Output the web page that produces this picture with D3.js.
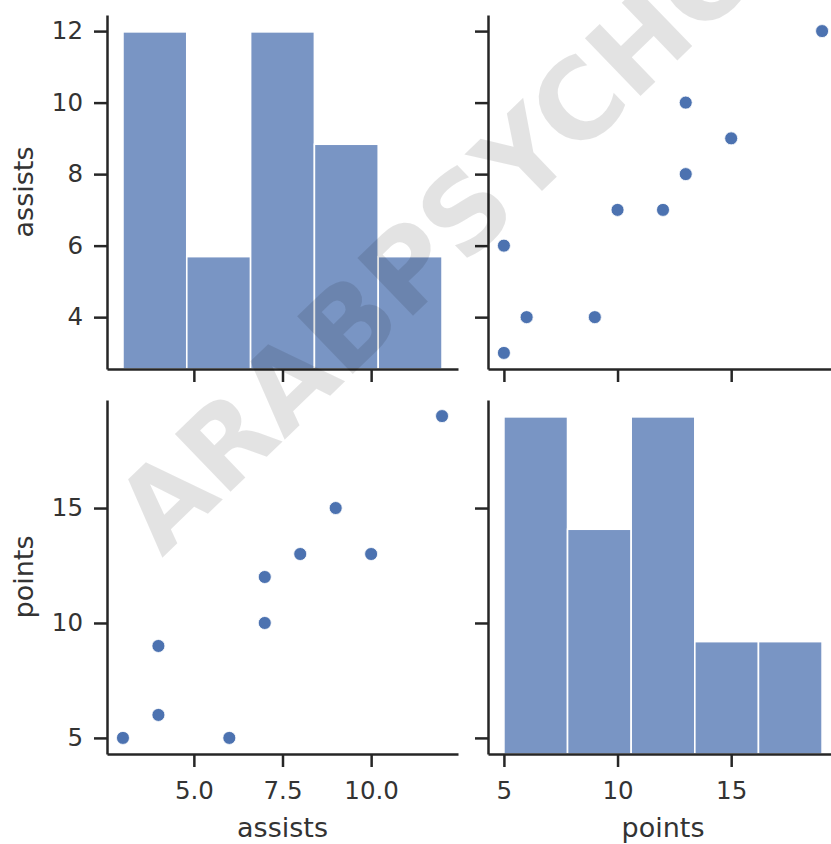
<!DOCTYPE html>
<html>
<head>
<meta charset="utf-8">
<script src="https://cdn.jsdelivr.net/npm/d3@7"></script>
<style>
    body { margin: 0; background: #fff; }
    text { font-family: "DejaVu Sans", sans-serif; }
</style>
</head>
<body>
<div id="pairplot"></div>
<script>
// raw data, one entry per player
var assists = [3, 6, 4, 4, 7, 7, 8, 10, 9, 12];
var points = [5, 5, 6, 9, 10, 12, 13, 13, 15, 19];

var variables = ["assists", "points"];
var tickValues = {
    assists: [4, 6, 8, 10, 12],
    points: [5, 10, 15]
};
var xTickValues = {
    assists: [5.0, 7.5, 10.0],
    points: [5, 10, 15]
};
var xTickFormat = {
    assists: d3.format(".1f"),
    points: d3.format("d")
};

function drawPairplot() {
    var width = 831, height = 844;
    var cols = [[107, 458], [488, 838]];
    var rows = [[15, 369], [400, 754]];
    var nBins = 5;

    var barColor = "#4C72B0";
    var axisColor = "#262626";
    var textColor = "#333333";

    var columns = { assists: assists, points: points };

    d3.select("#pairplot").selectAll("*").remove();
    var svg = d3.select("#pairplot")
        .append("svg")
        .attr("width", width)
        .attr("height", height);

    // one scale per variable for each direction
    function xScale(name, c) {
        var ext = d3.extent(columns[name]);
        var pad = (ext[1] - ext[0]) * 0.05;
        return d3.scaleLinear().domain([ext[0] - pad, ext[1] + pad]).range(cols[c]);
    }
    function yScale(name, r) {
        var ext = d3.extent(columns[name]);
        var pad = (ext[1] - ext[0]) * 0.05;
        return d3.scaleLinear().domain([ext[0] - pad, ext[1] + pad]).range([rows[r][1], rows[r][0]]);
    }

    variables.forEach(function (rowVar, r) {
        variables.forEach(function (colVar, c) {
            var x = xScale(colVar, c);
            var y = yScale(rowVar, r);
            var g = svg.append("g");

            if (r === c) {
                // histogram on the diagonal
                var ext = d3.extent(columns[colVar]);
                var step = (ext[1] - ext[0]) / nBins;
                var thresholds = d3.range(1, nBins).map(function (i) { return ext[0] + i * step; });
                var bins = d3.bin().domain(ext).thresholds(thresholds)(columns[colVar]);
                var yCount = d3.scaleLinear()
                    .domain([0, d3.max(bins, function (d) { return d.length; }) * 1.05])
                    .range([rows[r][1], rows[r][0]]);
                g.selectAll("rect")
                    .data(bins)
                    .enter()
                    .append("rect")
                    .attr("x", function (d) { return x(d.x0); })
                    .attr("width", function (d) { return x(d.x1) - x(d.x0); })
                    .attr("y", function (d) { return yCount(d.length); })
                    .attr("height", function (d) { return yCount(0) - yCount(d.length); })
                    .attr("fill", barColor)
                    .attr("fill-opacity", 0.75)
                    .attr("stroke", "#fff")
                    .attr("stroke-width", 1.6);
            } else {
                // scatter off the diagonal
                g.selectAll("circle")
                    .data(d3.range(columns[colVar].length))
                    .enter()
                    .append("circle")
                    .attr("cx", function (i) { return x(columns[colVar][i]); })
                    .attr("cy", function (i) { return y(columns[rowVar][i]); })
                    .attr("r", 6.5)
                    .attr("fill", barColor)
                    .attr("stroke", "#fff")
                    .attr("stroke-width", 0.8);
            }

            // left axis, labels only in the first column
            var yAxis = d3.axisLeft(y)
                .tickValues(tickValues[rowVar])
                .tickSize(13)
                .tickSizeOuter(0)
                .tickPadding(11);
            if (c > 0) yAxis.tickFormat("");
            var yg = g.append("g")
                .attr("transform", "translate(" + cols[c][0] + ",0)")
                .call(yAxis);

            // bottom axis, labels only in the last row
            var xAxis = d3.axisBottom(x)
                .tickValues(xTickValues[colVar])
                .tickSize(13)
                .tickSizeOuter(0)
                .tickPadding(15)
                .tickFormat(r === variables.length - 1 ? xTickFormat[colVar] : "");
            var xg = g.append("g")
                .attr("transform", "translate(0," + rows[r][1] + ")")
                .call(xAxis);

            [yg, xg].forEach(function (ax) {
                ax.select(".domain").attr("stroke", axisColor).attr("stroke-width", 2.5);
                ax.selectAll(".tick line").attr("stroke", axisColor).attr("stroke-width", 2.5);
                ax.selectAll(".tick text")
                    .attr("fill", textColor)
                    .style("font-size", "24.5px");
            });

            if (r === variables.length - 1) {
                svg.append("text")
                    .attr("x", (cols[c][0] + cols[c][1]) / 2)
                    .attr("y", 837)
                    .attr("text-anchor", "middle")
                    .attr("fill", textColor)
                    .style("font-size", "27px")
                    .text(colVar);
            }
            if (c === 0) {
                svg.append("text")
                    .attr("transform", "translate(33," + (rows[r][0] + rows[r][1]) / 2 + ") rotate(-90)")
                    .attr("text-anchor", "middle")
                    .attr("fill", textColor)
                    .style("font-size", "27px")
                    .text(rowVar);
            }
        });
    });

    // watermark over the figure
    svg.append("text")
        .attr("transform", "translate(162,558) rotate(-44)")
        .attr("fill", "#000")
        .attr("fill-opacity", 0.11)
        .style("font-size", "110px")
        .style("font-weight", "bold")
        .text("ARABPSYCHOLOGY");
}

drawPairplot();
</script>
</body>
</html>
